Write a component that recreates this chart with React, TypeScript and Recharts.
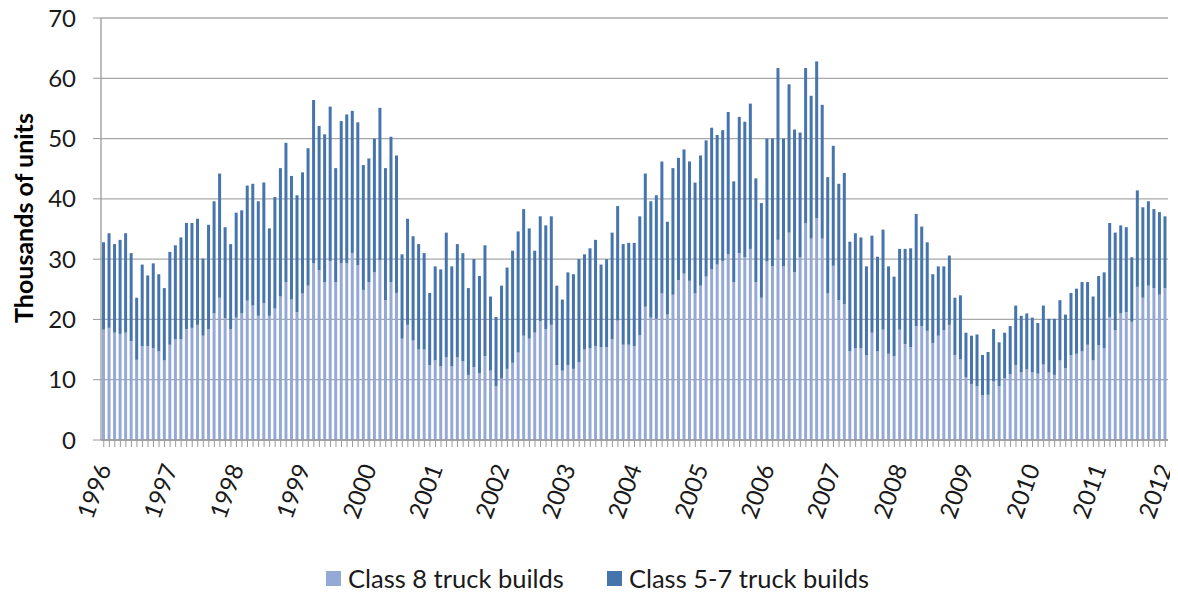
import React from 'react';
import { BarChart, Bar, XAxis, YAxis, CartesianGrid, Legend } from 'recharts';

const startYear = 1996;
const yearLabels = ['1996','1997','1998','1999','2000','2001','2002','2003','2004','2005','2006','2007','2008','2009','2010','2011','2012'];
const months: string[] = Array.from({ length: 193 }, (_, i) => `${startYear + Math.floor(i / 12)}-${String((i % 12) + 1).padStart(2, '0')}`);

// Class 8 truck builds (thousands of units), monthly Jan 1996 - Jan 2012
const class8 = [
  18.3,18.6,17.8,17.6,17.8,16.4,13.3,15.6,15.6,15.2,14.7,13.2,
  15.8,16.7,16.7,18.4,18.6,19.1,17.3,18.4,21.0,23.6,20.2,18.4,
  20.3,21.0,23.1,22.3,20.6,22.7,20.6,21.8,23.8,26.2,23.3,21.2,
  24.3,25.6,29.3,28.2,26.2,29.7,26.2,29.3,29.3,31.0,29.0,24.9,
  26.2,27.8,29.8,23.2,26.2,24.4,16.8,19.1,16.5,15.0,15.0,12.4,
  13.2,12.2,13.7,12.2,13.7,13.1,10.8,12.1,11.1,13.9,11.5,8.9,
  10.2,11.8,12.8,14.5,17.3,16.8,17.8,19.7,18.4,19.1,12.4,11.5,
  12.4,11.8,12.9,15.0,15.2,15.6,15.4,15.4,16.7,19.8,15.8,15.8,
  15.6,17.4,22.1,20.3,20.1,24.3,20.8,24.1,26.5,27.6,26.4,24.3,
  25.6,27.1,28.3,29.1,29.7,30.8,26.2,31.0,30.3,31.7,26.2,23.6,
  29.6,28.8,33.2,28.8,34.4,27.8,30.3,36.0,33.4,36.8,33.4,24.3,
  28.9,23.2,22.5,14.7,15.2,15.2,14.1,17.8,14.7,18.3,14.3,13.9,
  18.3,15.9,15.4,18.9,18.9,18.1,16.1,17.3,18.2,19.1,14.1,13.4,
  10.4,9.3,8.9,7.4,7.5,9.7,8.9,10.2,10.9,12.4,11.2,11.7,
  11.2,11.0,12.5,11.2,10.8,13.2,11.9,14.1,14.3,14.7,15.8,13.2,
  15.7,15.2,20.4,18.2,21.0,21.2,19.6,25.4,23.6,25.6,25.2,24.1,
  25.2,
];

// Class 5-7 truck builds (thousands of units), stacked on top
const class57 = [
  14.5,15.7,14.7,15.6,16.5,14.6,10.3,13.5,11.7,14.1,12.8,12.0,
  15.4,15.6,16.9,17.6,17.4,17.6,12.8,17.3,18.6,20.6,15.1,14.1,
  17.4,17.1,19.1,20.2,19.0,20.0,14.5,18.5,21.3,23.1,20.5,19.4,
  20.1,22.8,27.1,23.9,24.5,25.6,18.9,23.6,24.7,23.6,23.7,20.7,
  20.5,22.2,25.3,21.9,24.1,22.8,14.0,17.6,17.3,17.5,16.0,12.0,
  15.6,16.1,20.7,16.6,18.8,17.9,14.4,17.9,16.1,18.4,12.3,11.5,
  15.4,16.8,18.6,20.1,21.0,18.3,13.6,17.4,17.2,18.0,13.2,11.8,
  15.4,15.7,17.1,15.8,16.6,17.6,13.7,14.6,17.7,19.0,16.7,16.9,
  17.1,19.7,22.1,19.3,20.5,21.9,15.4,21.0,20.3,20.6,19.8,18.4,
  21.6,22.6,23.5,21.5,21.7,23.6,16.7,22.6,22.5,24.1,17.2,15.7,
  20.4,21.2,28.5,21.2,24.6,23.7,20.7,25.7,23.7,26.0,22.2,19.3,
  19.9,19.3,21.8,18.2,19.1,18.4,14.7,16.1,15.7,16.6,14.5,13.2,
  13.4,15.8,16.4,18.6,16.5,14.7,11.4,11.5,10.6,11.5,9.5,10.6,
  7.4,8.0,8.6,6.7,7.1,8.7,7.3,7.6,8.0,9.9,9.4,9.3,
  9.1,8.4,9.8,8.9,9.3,10.0,8.9,10.3,10.8,11.5,10.4,10.6,
  11.5,12.6,15.6,16.2,14.6,14.1,10.7,16.0,15.0,14.0,13.1,13.7,
  11.9,
];

const yTicks = [0, 10, 20, 30, 40, 50, 60, 70];
const seriesNames = ['Class 8 truck builds', 'Class 5-7 truck builds'];
const colors = ['#94A9D5', '#4674AD'];

const data = months.map((m, i) => ({ month: m, class8: class8[i], class57: class57[i] }));

const FONT = "Lato, 'Open Sans', sans-serif";

const XTick = (props: any) => {
  const { x, y, payload } = props;
  const i = payload.index;
  if (i % 12 !== 0) return <g />;
  const label = yearLabels[i / 12];
  return (
    <text
      x={x}
      y={y}
      dy="0.35em"
      transform={`rotate(-70, ${x}, ${y})`}
      textAnchor="end"
      fontSize={24}
      fontFamily={FONT}
      fill="#1a1a1a"
    >
      {label}
    </text>
  );
};

const YTitle = () => {
  const cx = 15;
  const cy = 18 + 422 / 2 - 11;
  return (
    <text
      x={cx}
      y={cy}
      transform={`rotate(-90, ${cx}, ${cy})`}
      textAnchor="middle"
      dominantBaseline="central"
      fontSize={25}
      fontWeight="bold"
      fontFamily={FONT}
      fill="#000"
    >
      Thousands of units
    </text>
  );
};

const LegendContent = () => (
  <div style={{ display: 'flex', justifyContent: 'center', height: 44, boxSizing: 'border-box', paddingTop: 13, paddingLeft: 19, fontFamily: FONT, fontSize: 25.5, color: '#1a1a1a', lineHeight: '26px' }}>
    {seriesNames.map((n, i) => (
      <div key={n} style={{ display: 'flex', alignItems: 'center', height: 26, marginRight: i === 0 ? 43 : 0 }}>
        <span style={{ display: 'inline-block', width: 15, height: 15, background: colors[i], marginRight: 7 }} />
        <span>{n}</span>
      </div>
    ))}
  </div>
);

export default function App() {
  return (
    <div style={{ marginTop: -8, marginBottom: -8 }}>
      <BarChart
        width={1170}
        height={596}
        data={data}
        margin={{ top: 18, right: 10, left: 0, bottom: 0 }}
      >
        <CartesianGrid vertical={false} stroke="#A8A8A8" strokeWidth={1.3} />
        <XAxis
          dataKey="month"
          interval={0}
          height={112}
          tick={<XTick />}
          tickSize={7}
          tickMargin={18}
          tickLine={{ stroke: '#9A9A9A' }}
          axisLine={{ stroke: '#9A9A9A', strokeWidth: 1.3 }}
        />
        <YAxis
          width={93}
          domain={[0, 70]}
          ticks={yTicks}
          interval={0}
          tickSize={8}
          tickMargin={17}
          tick={{ fontSize: 24, fontFamily: FONT, fill: '#1a1a1a' }}
          tickLine={{ stroke: '#9A9A9A' }}
          axisLine={{ stroke: '#9A9A9A', strokeWidth: 1.3 }}
          label={<YTitle />}
        />
        <Legend verticalAlign="bottom" height={44} content={<LegendContent />} />
        <Bar dataKey="class8" stackId="a" fill={colors[0]} name={seriesNames[0]} barSize={3} isAnimationActive={false} />
        <Bar dataKey="class57" stackId="a" fill={colors[1]} name={seriesNames[1]} barSize={3} isAnimationActive={false} />
      </BarChart>
    </div>
  );
}
